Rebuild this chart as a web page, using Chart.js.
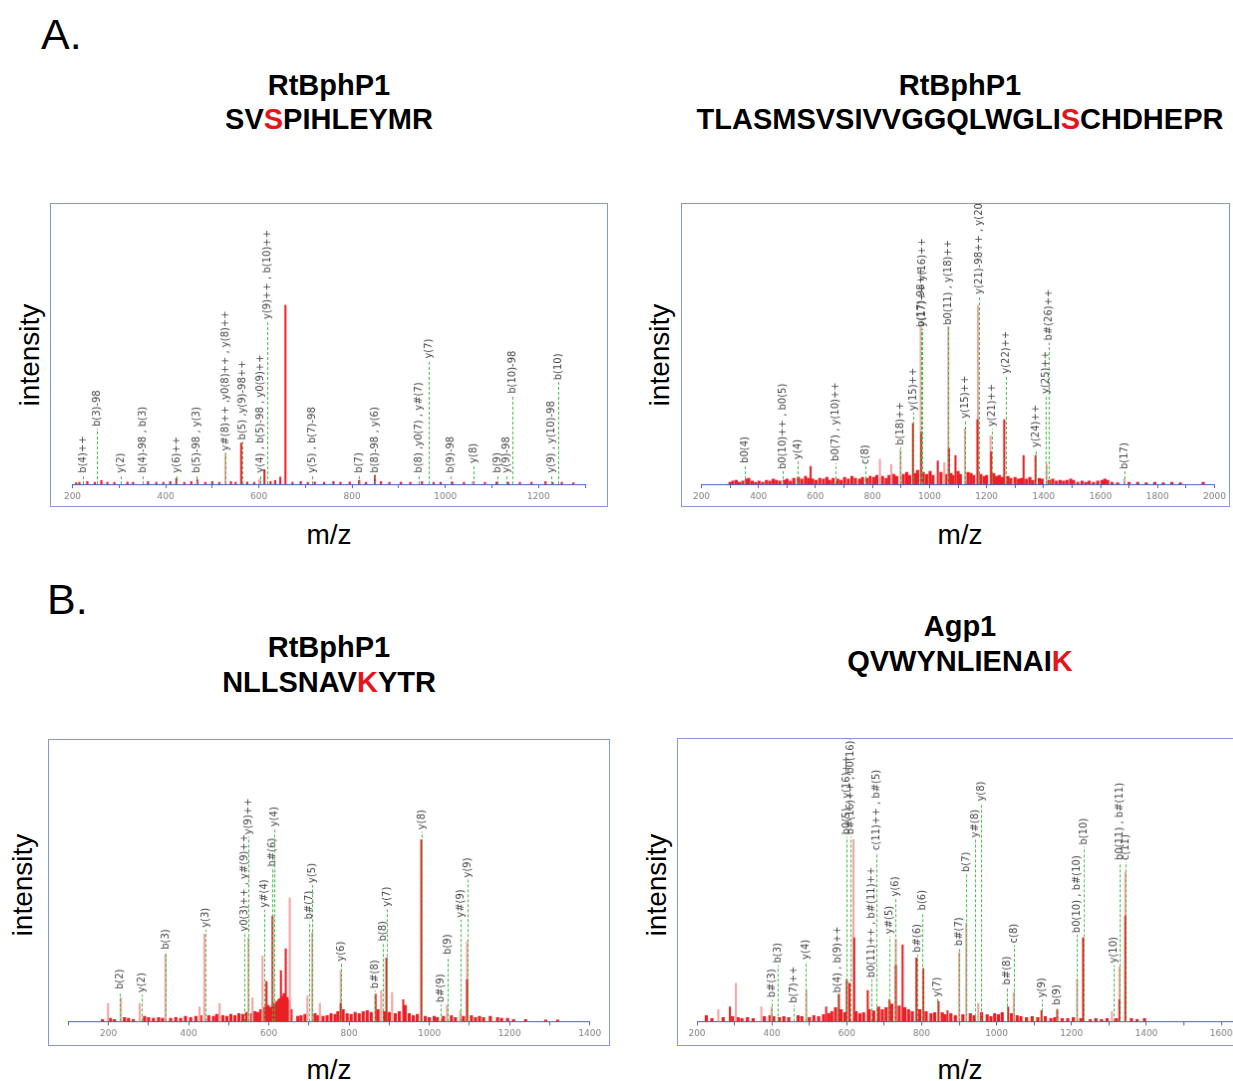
<!DOCTYPE html>
<html>
<head>
<meta charset="utf-8">
<script src="https://cdn.jsdelivr.net/npm/chart.js@4/dist/chart.umd.min.js"></script>
<style>
html, body { margin: 0; padding: 0; background: #fff; overflow: hidden; width: 1233px; height: 1081px; }
body { position: relative; font-family: "Liberation Sans", Arial, sans-serif; color: #000; }
.t { position: absolute; white-space: nowrap; line-height: 1; }
.letter { font-size: 43px; }
.title { font-size: 29px; font-weight: bold; transform: translateX(-50%); }
.hl { color: #e8141b; }
.ylab { font-size: 28px; transform: translate(-50%, -50%) rotate(-90deg); }
.xlab { font-size: 28px; transform: translate(-50%, -50%); }
canvas { position: absolute; border: 1px solid #8597da; }
</style>
</head>
<body>
<div class="t letter" style="left:41px; top:13px;">A.</div>
<div class="t letter" style="left:47px; top:578px;">B.</div>

<div class="t title" style="left:329px; top:71px;">RtBphP1</div>
<div class="t title" style="left:329px; top:105px;">SV<span class="hl">S</span>PIHLEYMR</div>
<div class="t title" style="left:960px; top:71px;">RtBphP1</div>
<div class="t title" style="left:960px; top:105px;">TLASMSVSIVVGGQLWGLI<span class="hl">S</span>CHDHEPR</div>
<div class="t title" style="left:329px; top:633px;">RtBphP1</div>
<div class="t title" style="left:329px; top:668px;">NLLSNAV<span class="hl">K</span>YTR</div>
<div class="t title" style="left:960px; top:612px;">Agp1</div>
<div class="t title" style="left:960px; top:647px;">QVWYNLIENAI<span class="hl">K</span></div>

<div class="t ylab" style="left:30px; top:355px;">intensity</div>
<div class="t ylab" style="left:660px; top:355px;">intensity</div>
<div class="t ylab" style="left:23px; top:885px;">intensity</div>
<div class="t ylab" style="left:657px; top:885px;">intensity</div>
<div class="t xlab" style="left:329px; top:535px;">m/z</div>
<div class="t xlab" style="left:960px; top:535px;">m/z</div>
<div class="t xlab" style="left:329px; top:1070px;">m/z</div>
<div class="t xlab" style="left:960px; top:1070px;">m/z</div>

<canvas id="aLeft" width="558" height="304" style="left:50px; top:203px;"></canvas>
<canvas id="aRight" width="549" height="304" style="left:681px; top:203px;"></canvas>
<canvas id="bLeft" width="562" height="307" style="left:48px; top:739px;"></canvas>
<canvas id="bRight" width="620" height="308" style="left:677px; top:738px;"></canvas>

<script>
// m/z ranges of the four spectra
const aLeftRange = [200, 1300];
const aRightRange = [200, 2000];
const bLeftRange = [100, 1400];
const bRightRange = [200, 1700];

// ---- A, left: SVSPIHLEYMR (relative intensity, %)
const aLeftPeakMz = [657, 562, 612, 646, 423, 849, 468, 815];
const aLeftPeakInt = [100, 23, 8, 4, 3.3, 5, 2.5, 1.8];
const aLeftMinorMz = [528, 602, 1061];
const aLeftMinorInt = [17, 3, 1.5];
const aLeftNoiseMz = [208, 215, 232, 248, 262, 275, 290, 318, 330, 362, 380, 395, 410, 440, 455, 485, 500, 515, 540, 550,
  575, 590, 602, 625, 635, 672, 690, 705, 720, 740, 760, 775, 795, 815, 830, 862, 880, 905, 925, 950,
  975, 990, 1015, 1040, 1060, 1085, 1110, 1135, 1160, 1185, 1215, 1230, 1250, 1275];
const aLeftNoiseInt = [0.8, 1, 1.5, 1, 2, 1, 1, 1.2, 1, 1.5, 1, 1, 1.5, 1, 1.5, 1, 1.5, 1, 1.5, 1,
  1.2, 1, 2, 1.5, 2, 1, 1.5, 1, 1.2, 1, 1.5, 1, 1.2, 2, 1, 1.5, 1, 1.2, 1, 1.5,
  1, 1, 1.2, 1, 1.5, 1, 1.2, 1, 1, 1, 1.5, 1, 1, 0.8];
const aLeftIonMz = [223, 252, 304, 351, 423, 466, 528, 565, 602, 619, 715, 815, 849, 943, 965, 1011, 1061, 1111, 1132, 1143, 1228, 1243];
const aLeftIonText = ['b(4)++', 'b(3)-98', 'y(2)', 'b(4)-98 , b(3)', 'y(6)++', 'b(5)-98 , y(3)', 'y#(8)++ ,y0(8)++ , y(8)++',
  'b(5) ,y(9)-98++', 'y(4) , b(5)-98 , y0(9)++', 'y(9)++ , b(10)++', 'y(5) , b(7)-98', 'b(7)', 'b(8)-98 , y(6)',
  'b(8) ,y0(7) , y#(7)', 'y(7)', 'b(9)-98', 'y(8)', 'b(9)', 'y(9)-98', 'b(10)-98', 'y(9) , y(10)-98', 'b(10)'];
const aLeftIonLevel = [5.2, 31, 5.2, 5.2, 5.2, 5.2, 17.5, 23.6, 5.2, 91, 5.2, 5.2, 5.2, 5.2, 69, 5.2, 10.6, 5.2, 5.2, 49.5, 5.2, 57];

// ---- A, right: TLASMSVSIVVGGQLWGLISCHDHEPR
const aRightPeakMz = [1168, 971, 1068, 1216, 1262, 1330, 1091, 942, 583, 1029, 1372];
const aRightPeakInt = [36, 29, 20, 18, 36, 16, 16, 34, 10, 13, 16];
const aRightMinorMz = [1170, 969, 1066, 1124, 1214, 1411, 898, 826, 866, 1052, 1683];
const aRightMinorInt = [100, 88, 88, 31, 27, 11, 19, 14, 11, 12, 3];
const aRightNoiseMz = [300, 310, 322, 333, 345, 358, 366, 378, 390, 402, 415, 428, 440, 452, 463, 475, 490, 500, 512, 524,
  540, 552, 565, 575, 590, 602, 615, 628, 640, 650, 662, 678, 690, 702, 715, 728, 740, 755, 765, 780,
  792, 805, 815, 835, 848, 858, 875, 885, 908, 920, 930, 950, 958, 978, 990, 1002, 1012, 1040, 1058, 1075,
  1082, 1100, 1108, 1135, 1145, 1155, 1180, 1192, 1200, 1225, 1235, 1245, 1255, 1275, 1285, 1300, 1312, 1322, 1340, 1352,
  1362, 1385, 1395, 1420, 1432, 1445, 1458, 1470, 1482, 1495, 1505, 1520, 1535, 1548, 1560, 1575, 1590, 1605, 1615, 1625,
  1640, 1660, 1700, 1730, 1760, 1790, 1820, 1850, 1880, 1960];
const aRightNoiseInt = [1.1, 1.7, 2.2, 1.1, 1.7, 2.8, 3.3, 1.7, 1.1, 1.7, 1.1, 2.2, 1.7, 2.8, 2.2, 1.7, 2.2, 2.8, 1.7, 3.3,
  3.9, 2.8, 4.4, 3.3, 2.8, 2.2, 3.3, 2.8, 3.9, 2.2, 3.3, 2.8, 2.2, 3.9, 2.8, 4.4, 3.3, 2.8, 3.9, 3.3,
  4.4, 3.9, 5, 4.4, 3.3, 5, 5.5, 4.4, 5.5, 6.6, 5, 6, 7.7, 6.6, 5.5, 7.2, 5, 6.6, 5.5, 6,
  5, 7.2, 5.5, 6.6, 6, 5, 5.5, 4.4, 5, 6, 4.4, 5, 3.9, 4.4, 3.3, 3.9, 2.8, 3.3, 2.8, 3.9,
  2.2, 3.3, 2.8, 2.2, 2.8, 1.7, 2.2, 1.7, 2.2, 2.8, 2.2, 1.1, 1.7, 1.1, 1.7, 1.1, 1.7, 2.2, 2.8, 2.2,
  1.1, 0.8, 1.1, 1.1, 0.8, 1.1, 0.8, 1.1, 0.8, 1.1];
const aRightIonMz = [351, 484, 536, 670, 774, 896, 942, 970, 973, 1066, 1124, 1173, 1220, 1266, 1374, 1408, 1417, 1683];
const aRightIonText = ['b0(4)', 'b0(10)++ , b0(5)', 'y(4)', 'b0(7) , y(10)++', 'c(8)', 'b(18)++', 'y(15)++', 'b(17)-98++',
  'y(17)++ y(16)++', 'b0(11) , y(18)++', 'y(15)++', 'y(21)-98++ , y(20)++', 'y(21)++', 'y(22)++', 'y(24)++', 'y(25)++', 'b#(26)++', 'b(17)'];
const aRightIonLevel = [10.6, 7.2, 12.8, 11.7, 10, 20.6, 40, 86.7, 86.7, 87.8, 35.6, 105, 31, 60.6, 19.4, 49.4, 79, 7.2];

// ---- B, left: NLLSNAVKYTR
const bLeftPeakMz = [980, 609, 642, 594, 630, 893, 779, 1094, 935, 866];
const bLeftPeakInt = [100, 58, 40, 22, 28, 35, 10, 23, 12, 15];
const bLeftMinorMz = [652, 549, 439, 342, 708, 584, 779, 1094, 199, 231, 278, 696, 880, 907, 1044, 1077, 427, 477, 559, 727];
const bLeftMinorInt = [68, 46, 48, 37, 49, 36, 28, 44, 10, 13, 10, 14, 17, 16, 9, 6, 8, 10, 13, 10];
const bLeftNoiseMz = [185, 205, 215, 240, 250, 262, 290, 300, 312, 325, 335, 355, 368, 380, 392, 405, 418, 430, 450, 462,
  470, 485, 495, 505, 515, 525, 535, 545, 557, 565, 572, 580, 590, 598, 604, 615, 620, 625, 633, 638,
  645, 650, 655, 672, 680, 690, 715, 722, 735, 745, 755, 765, 772, 785, 795, 805, 815, 825, 835, 845,
  855, 872, 888, 900, 915, 925, 940, 950, 960, 970, 990, 1000, 1012, 1020, 1035, 1055, 1065, 1085, 1105, 1115,
  1125, 1135, 1152, 1170, 1180, 1195, 1210, 1240, 1290, 1320, 610, 628, 648];
const bLeftNoiseInt = [1.1, 1.7, 1.1, 2.2, 1.7, 1.1, 2.8, 2.2, 1.7, 2.2, 1.7, 1.7, 2.2, 1.7, 2.8, 2.2, 2.8, 3.3, 3.3, 2.8,
  3.9, 3.3, 2.8, 3.9, 3.3, 4.4, 3.9, 5, 4.4, 5.5, 5, 6.6, 7.7, 8.8, 7.7, 9.9, 11, 12, 13.7, 15.4,
  13.2, 11, 6.6, 2.8, 3.3, 3.9, 4.4, 3.3, 2.8, 3.3, 4.4, 3.9, 5.5, 6.6, 4.4, 3.9, 5, 4.4, 5.5, 6,
  5, 6.6, 5.5, 5, 4.4, 5.5, 8.8, 4.4, 3.3, 3.9, 2.8, 2.2, 2.8, 2.2, 2.8, 3.3, 2.2, 2.8, 3.3, 2.2,
  2.8, 2.2, 2.8, 2.2, 1.7, 1.7, 1.1, 1.1, 0.8, 0.8, 8.8, 12.6, 12];
const bLeftIonMz = [228, 282, 342, 441, 539, 549, 589, 609, 613, 699, 708, 779, 864, 885, 895, 982, 1029, 1045, 1077, 1095];
const bLeftIonText = ['b(2)', 'y(2)', 'b(3)', 'y(3)', 'y0(3)++ , y#(9)++', 'y(9)++', 'y#(4)', 'b#(6)', 'y(4)', 'b#(7)',
  'y(5)', 'y(6)', 'b#(8)', 'b(8)', 'y(7)', 'y(8)', 'b#(9)', 'b(9)', 'y#(9)', 'y(9)'];
const bLeftIonLevel = [16.5, 14.8, 38.5, 50.5, 48.4, 101.6, 61.5, 84, 106, 55, 75, 32, 17, 43, 62, 104.4, 9.3, 35.7, 56, 78];

// ---- B, right: QVWYNLIENAIK
const bRightPeakMz = [600, 607, 620, 731, 749, 786, 804, 714, 656, 579, 288, 545, 845, 1231, 1344, 1328, 1031, 1120, 1162, 869];
const bRightPeakInt = [23, 21, 46, 31, 42, 35, 29, 12, 17, 15, 8, 8, 11, 46, 58, 12, 8, 6, 6.5, 6];
const bRightMinorMz = [618, 731, 1344, 1328, 1215, 919, 900, 951, 1046, 492, 304, 372, 257, 1308, 399];
const bRightMinorInt = [100, 45, 82, 30, 23, 54, 38, 10, 16, 17, 21, 8, 6.5, 5.4, 8];
const bRightNoiseMz = [225, 240, 270, 295, 310, 320, 335, 350, 380, 395, 405, 420, 432, 445, 470, 480, 500, 512, 525, 538,
  552, 560, 570, 585, 595, 625, 635, 645, 660, 672, 685, 695, 705, 720, 740, 755, 765, 775, 795, 812,
  825, 835, 855, 862, 878, 890, 910, 930, 940, 960, 975, 985, 995, 1005, 1015, 1040, 1055, 1065, 1080, 1095,
  1110, 1130, 1145, 1155, 1175, 1190, 1205, 1225, 1250, 1265, 1280, 1295, 1320, 1360, 1375, 1395];
const bRightNoiseInt = [3.2, 1.6, 2.2, 2.7, 2.2, 1.6, 2.2, 1.6, 2.7, 3.2, 2.7, 2.2, 2.7, 2.2, 3.2, 2.7, 2.2, 3.2, 2.7, 3.8,
  4.3, 5.4, 7.6, 6.5, 4.9, 5.4, 4.3, 4.9, 6.5, 5.9, 8.1, 6.5, 7.6, 9.7, 8.6, 7.6, 6.5, 5.4, 6.5, 5.4,
  4.3, 4.9, 4.9, 3.8, 4.3, 3.2, 3.8, 4.3, 3.2, 4.9, 3.8, 2.7, 4.3, 3.8, 4.9, 4.3, 3.2, 2.7, 2.2, 2.7,
  2.2, 2.7, 1.6, 2.2, 1.6, 1.6, 2.2, 1.6, 1.1, 1.6, 1.1, 1.6, 1.6, 1.6, 1.1, 1.6];
const bRightIonMz = [399, 415, 459, 490, 576, 600, 609, 665, 678, 714, 730, 787, 802, 842, 900, 918, 942, 959, 1029, 1046,
  1120, 1162, 1215, 1233, 1313, 1328, 1344];
const bRightIonText = ['b#(3)', 'b(3)', 'b(7)++', 'y(4)', 'b(4) , b(9)++', 'b0(5) , y(16)++', 'b#(16)++ , b0(16)++',
  'b0(11)++ , b#(11)++', 'c(11)++ , b#(5)', 'y#(5)', 'y(6)', 'b#(6)', 'b(6)', 'y(7)', 'b#(7)', 'b(7)', 'y#(8)', 'y(8)',
  'b#(8)', 'c(8)', 'y(9)', 'b(9)', 'b0(10) , b#(10)', 'b(10)', 'y(10)', 'b0(11) , b#(11)', 'c(11)'];
const bRightIonLevel = [12, 31, 9, 33, 14.6, 101.6, 101.6, 23, 93, 47, 67.6, 36.8, 60, 12.4, 40.5, 81, 100, 120, 19, 42,
  12, 8, 47.6, 96, 31, 87.6, 87.6];

const RED = '#ea2026';
const PINK = '#f5a3a3';
const AXIS_BLUE = '#4a5fc8';

// dashed fragment-ion markers with rotated labels
const ionLabels = {
  id: 'ionLabels',
  afterDatasetsDraw(chart, args, opts) {
    const { ctx, scales: { x, y } } = chart;
    const base = y.getPixelForValue(0);
    ctx.save();
    ctx.font = '10px "DejaVu Sans"';
    ctx.fillStyle = '#444';
    ctx.textBaseline = 'middle';
    ctx.textAlign = 'left';
    opts.mz.forEach((m, i) => {
      const px = Math.round(x.getPixelForValue(m)) + 0.5;
      const top = y.getPixelForValue(opts.level[i]);
      ctx.strokeStyle = '#3dba3d';
      ctx.lineWidth = 1;
      ctx.setLineDash([3, 2]);
      ctx.beginPath();
      ctx.moveTo(px, base);
      ctx.lineTo(px, top);
      ctx.stroke();
      ctx.save();
      ctx.translate(px, top - 2);
      ctx.rotate(-Math.PI / 2);
      ctx.fillText(opts.text[i], 0, 0);
      ctx.restore();
    });
    ctx.restore();
  }
};

const pts = (xs, ys) => xs.map((m, i) => ({ x: m, y: ys[i] }));

function makeSpectrum(id, s) {
  return new Chart(document.getElementById(id), {
    type: 'bar',
    data: {
      datasets: [
        { data: pts(s.peakMz, s.peakInt), backgroundColor: RED, barThickness: 1.4 },
        { data: pts(s.minorMz, s.minorInt), backgroundColor: PINK, barThickness: 1.4 },
        { data: pts(s.noiseMz, s.noiseInt), backgroundColor: RED, barThickness: s.noiseWidth }
      ]
    },
    options: {
      responsive: false,
      animation: false,
      events: [],
      datasets: { bar: { grouped: false } },
      layout: { padding: s.padding },
      plugins: {
        legend: { display: false },
        tooltip: { enabled: false },
        ionLabels: { mz: s.ionMz, text: s.ionText, level: s.ionLevel }
      },
      scales: {
        x: {
          type: 'linear',
          min: s.range[0],
          max: s.range[1],
          offset: false,
          afterFit: sc => { sc.height = 22; },
          border: { color: AXIS_BLUE, width: 1 },
          grid: { drawOnChartArea: false, color: AXIS_BLUE, tickLength: 4, offset: false },
          ticks: {
            stepSize: 100,
            autoSkip: false,
            maxRotation: 0,
            padding: 3,
            color: '#808080',
            font: { size: 9, family: 'DejaVu Sans' },
            callback: v => (v % 200 === 0 ? String(v) : '')
          }
        },
        y: { display: false, min: 0, max: 152 }
      }
    },
    plugins: [ionLabels]
  });
}

makeSpectrum('aLeft', {
  range: aLeftRange, padding: { left: 21.5, right: 22, top: 8, bottom: 0 }, noiseWidth: 1.5,
  peakMz: aLeftPeakMz, peakInt: aLeftPeakInt, minorMz: aLeftMinorMz, minorInt: aLeftMinorInt,
  noiseMz: aLeftNoiseMz, noiseInt: aLeftNoiseInt,
  ionMz: aLeftIonMz, ionText: aLeftIonText, ionLevel: aLeftIonLevel
});
makeSpectrum('aRight', {
  range: aRightRange, padding: { left: 19.5, right: 12, top: 8, bottom: 0 }, noiseWidth: 2.5,
  peakMz: aRightPeakMz, peakInt: aRightPeakInt, minorMz: aRightMinorMz, minorInt: aRightMinorInt,
  noiseMz: aRightNoiseMz, noiseInt: aRightNoiseInt,
  ionMz: aRightIonMz, ionText: aRightIonText, ionLevel: aRightIonLevel
});
makeSpectrum('bLeft', {
  range: bLeftRange, padding: { left: 19.4, right: 19.3, top: 5, bottom: 1.7 }, noiseWidth: 2.5,
  peakMz: bLeftPeakMz, peakInt: bLeftPeakInt, minorMz: bLeftMinorMz, minorInt: bLeftMinorInt,
  noiseMz: bLeftNoiseMz, noiseInt: bLeftNoiseInt,
  ionMz: bLeftIonMz, ionText: bLeftIonText, ionLevel: bLeftIonLevel
});
makeSpectrum('bRight', {
  range: bRightRange, padding: { left: 19, right: 37.4, top: 6, bottom: 1.7 }, noiseWidth: 2.5,
  peakMz: bRightPeakMz, peakInt: bRightPeakInt, minorMz: bRightMinorMz, minorInt: bRightMinorInt,
  noiseMz: bRightNoiseMz, noiseInt: bRightNoiseInt,
  ionMz: bRightIonMz, ionText: bRightIonText, ionLevel: bRightIonLevel
});
</script>
</body>
</html>
